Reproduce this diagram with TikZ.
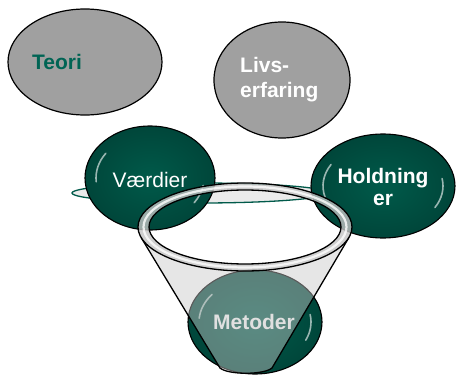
\documentclass[tikz,border=0pt]{standalone}
\usepackage{fontspec}
\setmainfont{Liberation Sans}
\usetikzlibrary{shapes.geometric}
\definecolor{dgreen}{RGB}{0,90,74}
\definecolor{dgreenedge}{RGB}{0,70,58}
\definecolor{tgreen}{RGB}{0,100,84}
\definecolor{bgray}{RGB}{160,160,160}
\definecolor{conegray}{RGB}{200,200,200}
\definecolor{ringgray}{RGB}{195,195,195}
\begin{document}
\begin{tikzpicture}[x=1pt,y=1pt,
  grayball/.style={ellipse, draw=black, line width=1.2pt, fill=bgray, inner sep=0pt},
  greenball/.style={ellipse, draw=black, line width=1.1pt, inner color=dgreen, outer color=dgreenedge, inner sep=0pt},
  hl/.style={white, line width=1.6pt, opacity=.6, line cap=round},
  lbl/.style={font=\fontsize{21}{25}\selectfont, inner sep=0pt},
  rimline/.style={black, line width=1.3pt}]
\useasboundingbox (0,0) rectangle (456,376);
% gray balls
\node[grayball, minimum width=154pt, minimum height=106pt] (teori) at (85,314) {};
\node[grayball, minimum width=136pt, minimum height=116pt] (livs) at (282,296) {};
% thin flat ellipse behind
\node[ellipse, draw=dgreen, line width=1.3pt, fill=black!8, minimum width=256pt, minimum height=20pt, inner sep=0pt] (flat) at (200,183) {};
% green balls
\node[greenball, minimum width=130pt, minimum height=104pt] (vaerdier) at (150,198) {};
\node[greenball, minimum width=144pt, minimum height=104pt] (holdning) at (383,190) {};
\node[greenball, minimum width=134pt, minimum height=104pt] (metoder) at (255,54) {};
\begin{scope}[shift={(vaerdier.center)}]
  \draw[hl] (145:54pt and 43pt) arc[start angle=145,end angle=185,x radius=54pt,y radius=43pt];
  \draw[hl] (-35:54pt and 43pt) arc[start angle=-35,end angle=-10,x radius=54pt,y radius=43pt];
\end{scope}
\begin{scope}[shift={(holdning.center)}]
  \draw[hl] (150:60pt and 43pt) arc[start angle=150,end angle=195,x radius=60pt,y radius=43pt];
  \draw[hl] (-30:60pt and 43pt) arc[start angle=-30,end angle=10,x radius=60pt,y radius=43pt];
\end{scope}
\begin{scope}[shift={(metoder.center)}]
  \draw[hl] (140:56pt and 43pt) arc[start angle=140,end angle=175,x radius=56pt,y radius=43pt];
  \draw[hl] (-25:56pt and 43pt) arc[start angle=-25,end angle=10,x radius=56pt,y radius=43pt];
\end{scope}
% funnel cone
\coordinate (ringc) at (245,149);
\coordinate (cl) at (141.1,138.5);
\coordinate (cr) at (349.1,138.8);
\coordinate (bl) at (220,8);
\coordinate (br) at (272,8);
\fill[conegray, fill opacity=.45] (cl) -- (bl) .. controls (228,1) and (264,1) .. (br) -- (cr)
   arc[start angle=-13.4, end angle=-166.2, x radius=107, y radius=44] -- cycle;
\draw[black, line width=1.3pt, line join=round] (cl) -- (bl) .. controls (228,1) and (264,1) .. (br) -- (cr);
% ring
\fill[ringgray, fill opacity=.8, even odd rule] (ringc) ellipse[x radius=107, y radius=44] (ringc) ellipse[x radius=96, y radius=37];
\draw[white, line width=2.2pt, opacity=.8] (ringc) ellipse[x radius=101.5, y radius=40.5];
\draw[rimline] (ringc) ellipse[x radius=107, y radius=44];
\draw[rimline] (ringc) ellipse[x radius=96, y radius=37];
% labels
\node[lbl, font=\fontsize{21}{25}\selectfont\bfseries, text=tgreen] (teoriT) at (57,314) {Teori};
\node[lbl, font=\fontsize{21}{25}\selectfont\bfseries, text=white, align=left, anchor=west] (livsT) at (240,296) {Livs-\\erfaring};
\node[lbl, text=white] (vaerdierT) at (150,196) {Værdier};
\node[lbl, font=\fontsize{21}{22}\selectfont\bfseries, text=white, align=center] (holdningT) at (383,189) {Holdning\\er};
\node[lbl, font=\fontsize{21}{25}\selectfont\bfseries, text=black!12] (metoderT) at (254,54) {Metoder};
\end{tikzpicture}
\end{document}
